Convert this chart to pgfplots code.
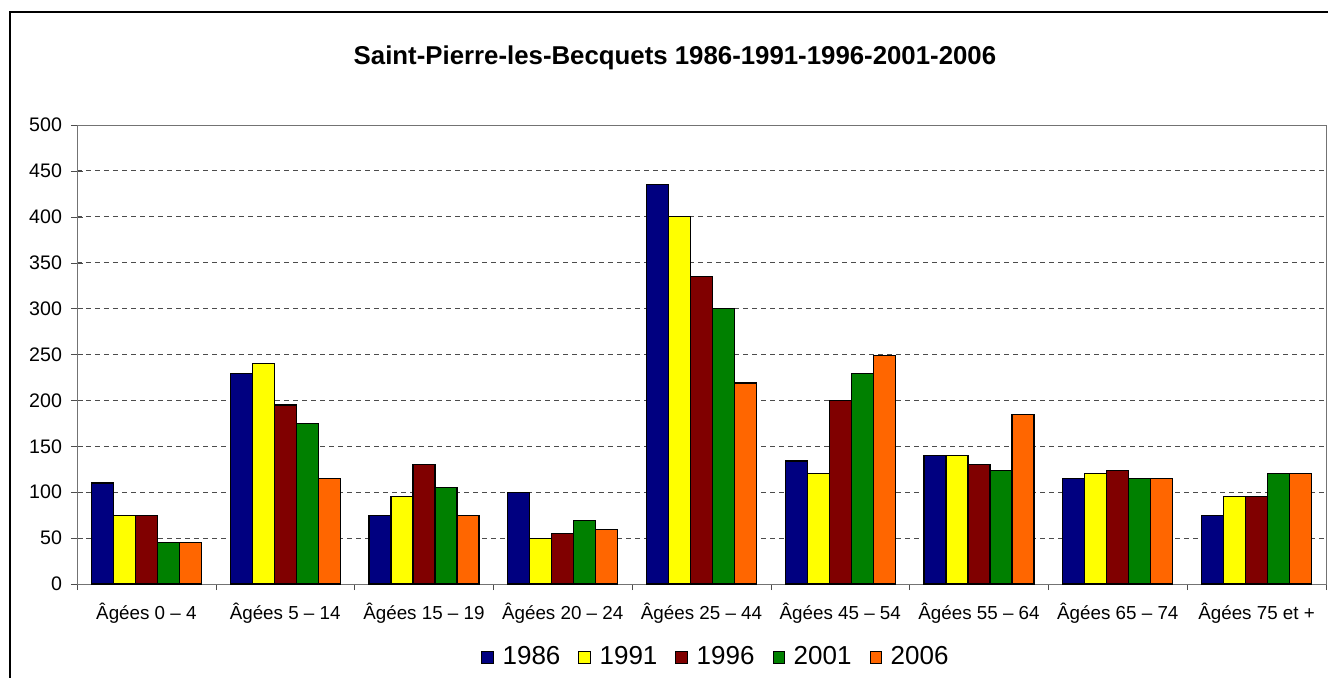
\documentclass[border=0pt]{standalone}
\usepackage{pgfplots}
\pgfplotsset{compat=1.18}
\usepackage{fontspec}
\setmainfont{Liberation Sans}
\definecolor{c86}{HTML}{000080}
\definecolor{c91}{HTML}{FFFF00}
\definecolor{c96}{HTML}{800000}
\definecolor{c01}{HTML}{008000}
\definecolor{c06}{HTML}{FF6600}
\begin{document}
\begin{tikzpicture}
\useasboundingbox (0,0) rectangle (664pt,338.5pt);
\draw[line width=0.8pt] (5pt,-2pt) -- (5pt,332.5pt) -- (666pt,332.5pt);
\node[font=\fontsize{12.9}{14}\selectfont\bfseries] at (337.5pt,309.5pt) {Saint-Pierre-les-Becquets 1986-1991-1996-2001-2006};
\begin{axis}[
  at={(38.5pt,46.5pt)}, anchor=south west,
  scale only axis, width=624.5pt, height=229.5pt,
  ybar=0pt, bar width=11pt,
  xmin=-0.5, xmax=8.5, ymin=0, ymax=500,
  xtick={0,...,8},
  xticklabels={Âgées 0 – 4,Âgées 5 – 14,Âgées 15 – 19,Âgées 20 – 24,Âgées 25 – 44,Âgées 45 – 54,Âgées 55 – 64,Âgées 65 – 74,Âgées 75 et +},
  major x tick style={draw=none},
  minor xtick={-0.5,0.5,...,8.5},
  minor tick length=3pt,
  ytick={0,50,...,500},
  major tick length=6pt,
  xtick align=outside, ytick align=center, tick pos=left,
  ymajorgrids, grid style={black!70, dash pattern=on 2.5pt off 2pt, line width=0.5pt},
  axis line style={black!55},
  tick style={black!70},
  /pgf/number format/assume math mode=true,
  yticklabel style={font=\fontsize{9.8}{11}\selectfont, xshift=-1pt},
  xticklabel style={font=\fontsize{9.4}{11}\selectfont, yshift=0pt},
  legend style={at={(0.5124,-0.159)}, anchor=center, draw=none, fill=none,
     legend columns=5, font=\fontsize{13}{14}\selectfont,
     /tikz/every odd column/.append style={column sep=2.5pt},
     /tikz/every even column/.append style={column sep=7pt}},
  legend cell align=left,
  legend image code/.code={\draw[#1, draw=black, line width=0.3pt] (0pt,-3pt) rectangle (5.8pt,2.8pt);},
  every axis plot/.append style={draw=black, line width=0.6pt},
]
\addplot[fill=c86] coordinates {(0,110) (1,229) (2,75) (3,100) (4,435) (5,134) (6,140) (7,115) (8,75)};
\addplot[fill=c91] coordinates {(0,75) (1,240) (2,95) (3,50) (4,400) (5,120) (6,140) (7,120) (8,95)};
\addplot[fill=c96] coordinates {(0,75) (1,195) (2,130) (3,55) (4,335) (5,200) (6,130) (7,124) (8,95)};
\addplot[fill=c01] coordinates {(0,45) (1,175) (2,105) (3,69) (4,300) (5,229) (6,124) (7,115) (8,120)};
\addplot[fill=c06] coordinates {(0,45) (1,115) (2,75) (3,59) (4,219) (5,249) (6,185) (7,115) (8,120)};
\legend{1986,1991,1996,2001,2006}
\end{axis}
\end{tikzpicture}
\end{document}
